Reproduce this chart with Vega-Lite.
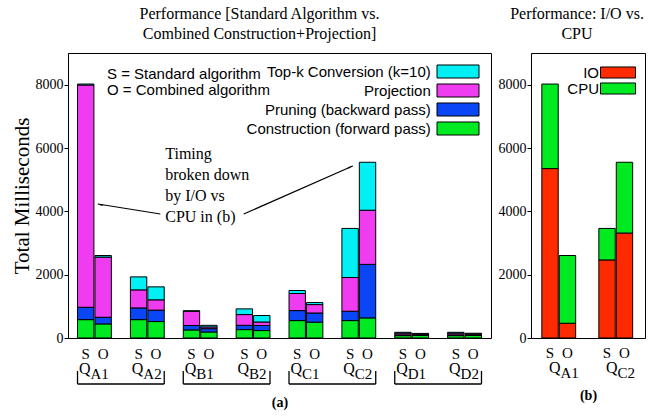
{
 "$schema": "https://vega.github.io/schema/vega-lite/v6.json",
 "padding": {"left": 10, "top": 5, "right": 5, "bottom": 5},
 "spacing": 5,
 "resolve": {"scale": {"color": "independent"}},
 "config": {
  "view": {"stroke": "black", "strokeWidth": 1},
  "axis": {"labelFont": "Liberation Serif", "labelFontSize": 14, "labelColor": "black", "titleFont": "Liberation Serif", "titleColor": "black", "titleFontWeight": "normal", "domainColor": "black", "tickColor": "black", "grid": false},
  "axisY": {"tickCount": 9, "labelOverlap": false},
  "legend": {"labelFont": "Liberation Sans", "labelFontSize": 15, "labelColor": "black"},
  "title": {"font": "Liberation Serif", "fontSize": 16, "fontWeight": "normal", "color": "black", "lineHeight": 20},
  "text": {"font": "Liberation Serif", "fontSize": 15, "color": "black"}
 },
 "datasets": {
  "perf": [
   {"q": "A1", "alg": "S", "comp": "Construction (forward pass)", "o": 1, "v": 580},
   {"q": "A1", "alg": "S", "comp": "Pruning (backward pass)", "o": 2, "v": 390},
   {"q": "A1", "alg": "S", "comp": "Projection", "o": 3, "v": 7020},
   {"q": "A1", "alg": "S", "comp": "Top-k Conversion (k=10)", "o": 4, "v": 30},
   {"q": "A1", "alg": "O", "comp": "Construction (forward pass)", "o": 1, "v": 445},
   {"q": "A1", "alg": "O", "comp": "Pruning (backward pass)", "o": 2, "v": 210},
   {"q": "A1", "alg": "O", "comp": "Projection", "o": 3, "v": 1900},
   {"q": "A1", "alg": "O", "comp": "Top-k Conversion (k=10)", "o": 4, "v": 50},
   {"q": "A2", "alg": "S", "comp": "Construction (forward pass)", "o": 1, "v": 580},
   {"q": "A2", "alg": "S", "comp": "Pruning (backward pass)", "o": 2, "v": 370},
   {"q": "A2", "alg": "S", "comp": "Projection", "o": 3, "v": 570},
   {"q": "A2", "alg": "S", "comp": "Top-k Conversion (k=10)", "o": 4, "v": 410},
   {"q": "A2", "alg": "O", "comp": "Construction (forward pass)", "o": 1, "v": 520},
   {"q": "A2", "alg": "O", "comp": "Pruning (backward pass)", "o": 2, "v": 360},
   {"q": "A2", "alg": "O", "comp": "Projection", "o": 3, "v": 325},
   {"q": "A2", "alg": "O", "comp": "Top-k Conversion (k=10)", "o": 4, "v": 410},
   {"q": "B1", "alg": "S", "comp": "Construction (forward pass)", "o": 1, "v": 255},
   {"q": "B1", "alg": "S", "comp": "Pruning (backward pass)", "o": 2, "v": 140},
   {"q": "B1", "alg": "S", "comp": "Projection", "o": 3, "v": 450},
   {"q": "B1", "alg": "S", "comp": "Top-k Conversion (k=10)", "o": 4, "v": 15},
   {"q": "B1", "alg": "O", "comp": "Construction (forward pass)", "o": 1, "v": 190},
   {"q": "B1", "alg": "O", "comp": "Pruning (backward pass)", "o": 2, "v": 105},
   {"q": "B1", "alg": "O", "comp": "Projection", "o": 3, "v": 55},
   {"q": "B1", "alg": "O", "comp": "Top-k Conversion (k=10)", "o": 4, "v": 50},
   {"q": "B2", "alg": "S", "comp": "Construction (forward pass)", "o": 1, "v": 265},
   {"q": "B2", "alg": "S", "comp": "Pruning (backward pass)", "o": 2, "v": 135},
   {"q": "B2", "alg": "S", "comp": "Projection", "o": 3, "v": 340},
   {"q": "B2", "alg": "S", "comp": "Top-k Conversion (k=10)", "o": 4, "v": 180},
   {"q": "B2", "alg": "O", "comp": "Construction (forward pass)", "o": 1, "v": 235},
   {"q": "B2", "alg": "O", "comp": "Pruning (backward pass)", "o": 2, "v": 160},
   {"q": "B2", "alg": "O", "comp": "Projection", "o": 3, "v": 110},
   {"q": "B2", "alg": "O", "comp": "Top-k Conversion (k=10)", "o": 4, "v": 205},
   {"q": "C1", "alg": "S", "comp": "Construction (forward pass)", "o": 1, "v": 550},
   {"q": "C1", "alg": "S", "comp": "Pruning (backward pass)", "o": 2, "v": 315},
   {"q": "C1", "alg": "S", "comp": "Projection", "o": 3, "v": 540},
   {"q": "C1", "alg": "S", "comp": "Top-k Conversion (k=10)", "o": 4, "v": 95},
   {"q": "C1", "alg": "O", "comp": "Construction (forward pass)", "o": 1, "v": 500},
   {"q": "C1", "alg": "O", "comp": "Pruning (backward pass)", "o": 2, "v": 290},
   {"q": "C1", "alg": "O", "comp": "Projection", "o": 3, "v": 265},
   {"q": "C1", "alg": "O", "comp": "Top-k Conversion (k=10)", "o": 4, "v": 65},
   {"q": "C2", "alg": "S", "comp": "Construction (forward pass)", "o": 1, "v": 550},
   {"q": "C2", "alg": "S", "comp": "Pruning (backward pass)", "o": 2, "v": 295},
   {"q": "C2", "alg": "S", "comp": "Projection", "o": 3, "v": 1065},
   {"q": "C2", "alg": "S", "comp": "Top-k Conversion (k=10)", "o": 4, "v": 1550},
   {"q": "C2", "alg": "O", "comp": "Construction (forward pass)", "o": 1, "v": 635},
   {"q": "C2", "alg": "O", "comp": "Pruning (backward pass)", "o": 2, "v": 1690},
   {"q": "C2", "alg": "O", "comp": "Projection", "o": 3, "v": 1710},
   {"q": "C2", "alg": "O", "comp": "Top-k Conversion (k=10)", "o": 4, "v": 1515},
   {"q": "D1", "alg": "S", "comp": "Construction (forward pass)", "o": 1, "v": 75},
   {"q": "D1", "alg": "S", "comp": "Pruning (backward pass)", "o": 2, "v": 25},
   {"q": "D1", "alg": "S", "comp": "Projection", "o": 3, "v": 55},
   {"q": "D1", "alg": "S", "comp": "Top-k Conversion (k=10)", "o": 4, "v": 25},
   {"q": "D1", "alg": "O", "comp": "Construction (forward pass)", "o": 1, "v": 80},
   {"q": "D1", "alg": "O", "comp": "Pruning (backward pass)", "o": 2, "v": 20},
   {"q": "D1", "alg": "O", "comp": "Projection", "o": 3, "v": 25},
   {"q": "D1", "alg": "O", "comp": "Top-k Conversion (k=10)", "o": 4, "v": 20},
   {"q": "D2", "alg": "S", "comp": "Construction (forward pass)", "o": 1, "v": 75},
   {"q": "D2", "alg": "S", "comp": "Pruning (backward pass)", "o": 2, "v": 25},
   {"q": "D2", "alg": "S", "comp": "Projection", "o": 3, "v": 55},
   {"q": "D2", "alg": "S", "comp": "Top-k Conversion (k=10)", "o": 4, "v": 25},
   {"q": "D2", "alg": "O", "comp": "Construction (forward pass)", "o": 1, "v": 80},
   {"q": "D2", "alg": "O", "comp": "Pruning (backward pass)", "o": 2, "v": 20},
   {"q": "D2", "alg": "O", "comp": "Projection", "o": 3, "v": 30},
   {"q": "D2", "alg": "O", "comp": "Top-k Conversion (k=10)", "o": 4, "v": 20}
  ],
  "io": [
   {"q": "A1", "alg": "S", "part": "IO", "o": 1, "v": 5350},
   {"q": "A1", "alg": "S", "part": "CPU", "o": 2, "v": 2670},
   {"q": "A1", "alg": "O", "part": "IO", "o": 1, "v": 465},
   {"q": "A1", "alg": "O", "part": "CPU", "o": 2, "v": 2140},
   {"q": "C2", "alg": "S", "part": "IO", "o": 1, "v": 2465},
   {"q": "C2", "alg": "S", "part": "CPU", "o": 2, "v": 995},
   {"q": "C2", "alg": "O", "part": "IO", "o": 1, "v": 3315},
   {"q": "C2", "alg": "O", "part": "CPU", "o": 2, "v": 2235}
  ],
  "brk": [
   {"s": "A1", "e": "A2"}, {"s": "B1", "e": "B2"}, {"s": "C1", "e": "C2"}, {"s": "D1", "e": "D2"}
  ],
  "ann": [
   {"q": "A2", "v": 5810, "t": "Timing"},
   {"q": "A2", "v": 5147, "t": "broken down"},
   {"q": "A2", "v": 4484, "t": "by I/O vs"},
   {"q": "A2", "v": 3821, "t": "CPU in (b)"}
  ],
  "key": [
   {"q": "A1", "v": 8337, "t": "S = Standard algorithm"},
   {"q": "A1", "v": 7832, "t": "O = Combined algorithm"}
  ],
  "arrow1": [
   {"q": "A1", "v": 4232, "q2": "A2", "v2": 3916, "hv": 4203}
  ],
  "arrow2": [
   {"q": "C2", "v": 5432, "q2": "B2", "v2": 3916, "hv": 5394}
  ]
 },
 "hconcat": [
  {
   "width": 423,
   "height": 285,
   "title": {"text": ["Performance [Standard Algorithm vs.", "Combined Construction+Projection]"], "anchor": "middle", "frame": "group", "dx": -20, "offset": 11},
   "layer": [
    {
     "data": {"name": "perf"},
     "mark": {"type": "bar", "stroke": "black", "strokeWidth": 1},
     "encoding": {
      "x": {"field": "q", "type": "nominal", "scale": {"domain": ["A1", "A2", "B1", "B2", "C1", "C2", "D1", "D2"], "paddingInner": 0.36, "paddingOuter": 0.18}, "axis": {"labels": false, "ticks": false, "domain": false, "title": "(a)", "titleFontSize": 14, "titleFontWeight": "bold", "titlePadding": 57}},
      "xOffset": {"field": "alg", "type": "nominal", "scale": {"domain": ["S", "O"], "paddingInner": 0.06}},
      "y": {"field": "v", "type": "quantitative", "stack": "zero", "scale": {"domain": [0, 9000], "nice": false}, "axis": {"title": "Total Milliseconds", "titleFontSize": 21, "values": [0, 1000, 2000, 3000, 4000, 5000, 6000, 7000, 8000, 9000], "tickCount": 9, "labelOverlap": false, "format": "d", "tickSize": 4, "labelPadding": 1, "titlePadding": 3}},
      "color": {"field": "comp", "type": "nominal", "scale": {"domain": ["Top-k Conversion (k=10)", "Projection", "Pruning (backward pass)", "Construction (forward pass)"], "range": ["#00f0f5", "#f03cf0", "#0a46f5", "#00ea22"]}, "legend": {"orient": "none", "legendX": 382.5, "legendY": 11, "title": null, "symbolType": "M-3,-0.93H3V0.93H-3Z", "symbolSize": 196, "symbolStrokeColor": "black", "symbolStrokeWidth": 1, "symbolOpacity": 1, "labelAlign": "right", "labelOffset": -34.7, "rowPadding": 0, "padding": 0, "labelLimit": 300}},
      "order": {"field": "o", "type": "quantitative"}
     }
    },
    {
     "data": {"name": "perf"},
     "transform": [{"filter": "datum.o == 1"}],
     "mark": {"type": "text", "baseline": "middle", "dy": 16, "fontSize": 15},
     "encoding": {
      "x": {"field": "q", "type": "nominal"},
      "xOffset": {"field": "alg", "type": "nominal"},
      "y": {"datum": 0, "type": "quantitative"},
      "text": {"field": "alg"}
     }
    },
    {
     "data": {"name": "perf"},
     "transform": [{"filter": "datum.o == 1 && datum.alg == 'S'"}],
     "mark": {"type": "text", "baseline": "middle", "align": "right", "dx": -4, "dy": 31, "fontSize": 16, "text": "Q"},
     "encoding": {
      "x": {"field": "q", "type": "nominal"},
      "y": {"datum": 0, "type": "quantitative"}
     }
    },
    {
     "data": {"name": "perf"},
     "transform": [{"filter": "datum.o == 1 && datum.alg == 'S'"}],
     "mark": {"type": "text", "baseline": "middle", "align": "left", "dx": -4, "dy": 36, "fontSize": 15},
     "encoding": {
      "x": {"field": "q", "type": "nominal"},
      "y": {"datum": 0, "type": "quantitative"},
      "text": {"field": "q"}
     }
    },
    {
     "data": {"name": "brk"},
     "mark": {"type": "rule", "color": "black", "strokeWidth": 1.3, "yOffset": 46},
     "encoding": {
      "x": {"field": "s", "type": "nominal", "bandPosition": 0},
      "x2": {"field": "e", "bandPosition": 1},
      "y": {"datum": 0, "type": "quantitative"}
     }
    },
    {
     "data": {"name": "brk"},
     "mark": {"type": "rule", "color": "black", "strokeWidth": 1.3, "yOffset": 33, "y2Offset": 46},
     "encoding": {
      "x": {"field": "s", "type": "nominal", "bandPosition": 0},
      "y": {"datum": 0, "type": "quantitative"},
      "y2": {"datum": 0}
     }
    },
    {
     "data": {"name": "brk"},
     "mark": {"type": "rule", "color": "black", "strokeWidth": 1.3, "yOffset": 33, "y2Offset": 46},
     "encoding": {
      "x": {"field": "e", "type": "nominal", "bandPosition": 1},
      "y": {"datum": 0, "type": "quantitative"},
      "y2": {"datum": 0}
     }
    },
    {
     "data": {"name": "ann"},
     "mark": {"type": "text", "align": "left", "baseline": "middle", "fontSize": 16, "dx": 1},
     "encoding": {
      "x": {"field": "q", "type": "nominal", "bandPosition": 1},
      "y": {"field": "v", "type": "quantitative"},
      "text": {"field": "t"}
     }
    },
    {
     "data": {"name": "key"},
     "mark": {"type": "text", "align": "left", "baseline": "middle", "fontSize": 15, "font": "Liberation Sans"},
     "encoding": {
      "x": {"field": "q", "type": "nominal", "bandPosition": 0.87},
      "y": {"field": "v", "type": "quantitative"},
      "text": {"field": "t"}
     }
    },
    {
     "data": {"name": "arrow1"},
     "mark": {"type": "rule", "color": "black", "strokeWidth": 1.2},
     "encoding": {
      "x": {"field": "q", "type": "nominal", "bandPosition": 0.606},
      "y": {"field": "v", "type": "quantitative"},
      "x2": {"field": "q2", "bandPosition": 0.884},
      "y2": {"field": "v2"}
     }
    },
    {
     "data": {"name": "arrow1"},
     "mark": {"type": "point", "shape": "wedge", "filled": true, "color": "black", "size": 45, "angle": 281, "opacity": 1},
     "encoding": {
      "x": {"field": "q", "type": "nominal", "bandPosition": 0.69},
      "y": {"field": "hv", "type": "quantitative"}
     }
    },
    {
     "data": {"name": "arrow2"},
     "mark": {"type": "rule", "color": "black", "strokeWidth": 1.2},
     "encoding": {
      "x": {"field": "q", "type": "nominal", "bandPosition": 0.319},
      "y": {"field": "v", "type": "quantitative"},
      "x2": {"field": "q2", "bandPosition": 0.225},
      "y2": {"field": "v2"}
     }
    },
    {
     "data": {"name": "arrow2"},
     "mark": {"type": "point", "shape": "wedge", "filled": true, "color": "black", "size": 45, "angle": 66, "opacity": 1},
     "encoding": {
      "x": {"field": "q", "type": "nominal", "bandPosition": 0.238},
      "y": {"field": "hv", "type": "quantitative"}
     }
    }
   ]
  },
  {
   "width": 114,
   "height": 285,
   "title": {"text": ["Performance: I/O vs.", "CPU"], "anchor": "middle", "frame": "group", "dx": -11, "offset": 11},
   "layer": [
    {
     "data": {"name": "io"},
     "mark": {"type": "bar", "stroke": "black", "strokeWidth": 1},
     "encoding": {
      "x": {"field": "q", "type": "nominal", "scale": {"domain": ["A1", "C2"], "paddingInner": 0.38, "paddingOuter": 0.19}, "axis": {"labels": false, "ticks": false, "domain": false, "title": "(b)", "titleFontSize": 14, "titleFontWeight": "bold", "titlePadding": 50}},
      "xOffset": {"field": "alg", "type": "nominal", "scale": {"domain": ["S", "O"], "paddingInner": 0.06}},
      "y": {"field": "v", "type": "quantitative", "stack": "zero", "scale": {"domain": [0, 9000], "nice": false}, "axis": {"title": null, "values": [0, 1000, 2000, 3000, 4000, 5000, 6000, 7000, 8000, 9000], "tickCount": 9, "labelOverlap": false, "format": "d", "tickSize": 4, "labelPadding": 1}},
      "color": {"field": "part", "type": "nominal", "scale": {"domain": ["IO", "CPU"], "range": ["#ff2a00", "#00ea22"]}, "legend": {"orient": "none", "legendX": 79.5, "legendY": 12, "title": null, "symbolType": "M-2.5,-0.79H2.5V0.79H-2.5Z", "symbolSize": 196, "symbolStrokeColor": "black", "symbolStrokeWidth": 1, "symbolOpacity": 1, "labelAlign": "right", "labelOffset": -26.5, "rowPadding": -2, "padding": 0}},
      "order": {"field": "o", "type": "quantitative"}
     }
    },
    {
     "data": {"name": "io"},
     "transform": [{"filter": "datum.o == 1"}],
     "mark": {"type": "text", "baseline": "middle", "dy": 15, "fontSize": 15},
     "encoding": {
      "x": {"field": "q", "type": "nominal"},
      "xOffset": {"field": "alg", "type": "nominal"},
      "y": {"datum": 0, "type": "quantitative"},
      "text": {"field": "alg"}
     }
    },
    {
     "data": {"name": "io"},
     "transform": [{"filter": "datum.o == 1 && datum.alg == 'S'"}],
     "mark": {"type": "text", "baseline": "middle", "align": "right", "dx": 1, "dy": 30, "fontSize": 16, "text": "Q"},
     "encoding": {
      "x": {"field": "q", "type": "nominal"},
      "y": {"datum": 0, "type": "quantitative"}
     }
    },
    {
     "data": {"name": "io"},
     "transform": [{"filter": "datum.o == 1 && datum.alg == 'S'"}],
     "mark": {"type": "text", "baseline": "middle", "align": "left", "dx": 1, "dy": 35, "fontSize": 15},
     "encoding": {
      "x": {"field": "q", "type": "nominal"},
      "y": {"datum": 0, "type": "quantitative"},
      "text": {"field": "q"}
     }
    }
   ]
  }
 ]
}
